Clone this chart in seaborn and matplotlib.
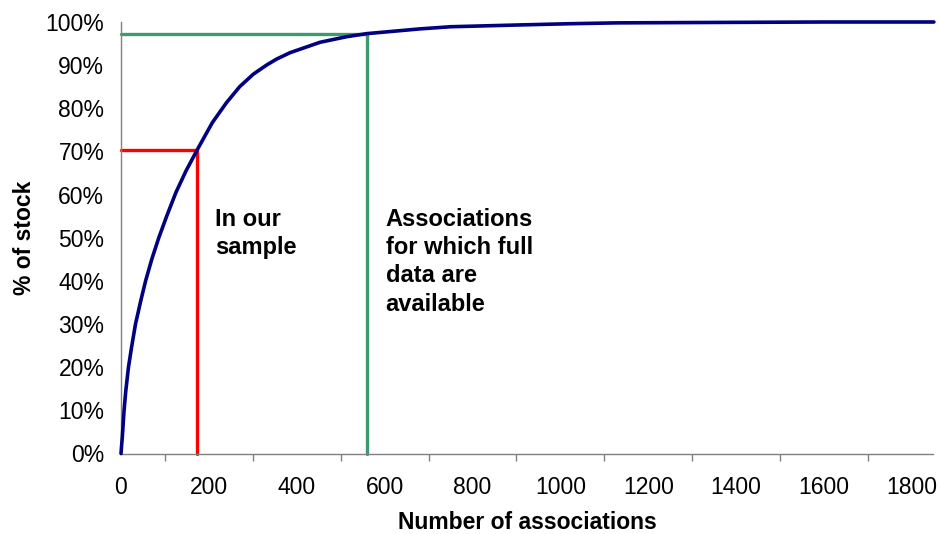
import matplotlib
matplotlib.use("Agg")
import matplotlib.pyplot as plt
from matplotlib.ticker import MultipleLocator, FuncFormatter
import seaborn as sns
import pandas as pd

# ---- data ----
associations = [0, 3, 7, 11, 17, 24, 33, 45, 56, 70, 86, 104, 125, 148, 173,
                208, 240, 270, 301, 331, 354, 385, 453, 514, 559, 680, 750,
                900, 1020, 1130, 1360, 1600, 1850]
pct_stock = [0, 3.9, 10, 14.6, 20, 24.6, 30, 35.4, 40, 45, 50, 55, 60.5, 65.5, 70.3,
             76.7, 81.3, 85.0, 87.9, 90.0, 91.4, 92.9, 95.3, 96.6, 97.3, 98.4, 98.9,
             99.3, 99.6, 99.8, 99.9, 100, 100]

sample_n, sample_pct = 173, 70.3
full_n, full_pct = 559, 97.3

x_ticks = [0, 200, 400, 600, 800, 1000, 1200, 1400, 1600, 1800]
y_ticks = [0, 10, 20, 30, 40, 50, 60, 70, 80, 90, 100]

label_sample = "In our\nsample"
label_full = "Associations\nfor which full\ndata are\navailable"

df = pd.DataFrame({"n": associations, "pct": pct_stock})

sns.set_theme(style="white")
plt.rcParams["font.family"] = ["Liberation Sans", "DejaVu Sans"]
plt.rcParams["text.color"] = "black"
plt.rcParams["axes.labelcolor"] = "black"

fig = plt.figure(figsize=(9.4, 5.34), dpi=100)
ax = fig.add_axes([121 / 940, 1 - 453.5 / 534, (933 - 121) / 940, (453.5 - 22) / 534])

GRAY = "#808080"
RED = "#FF0000"
GREEN = "#3C9B6E"
NAVY = "#000080"

ax.plot([0, sample_n, sample_n], [sample_pct, sample_pct, 0], color=RED, lw=2.4,
        solid_joinstyle="miter", clip_on=False, zorder=2)
ax.plot([0, full_n, full_n], [full_pct, full_pct, 0], color=GREEN, lw=2.4,
        solid_joinstyle="miter", clip_on=False, zorder=2)
sns.lineplot(data=df, x="n", y="pct", ax=ax, color=NAVY, lw=2.6, sort=False,
             estimator=None, zorder=3)
for l in ax.lines:
    l.set_clip_on(False)
    l.set_solid_joinstyle("round")

ax.set_xlim(0, 1848)
ax.set_ylim(0, 100)
ax.set_xticks(x_ticks)
ax.xaxis.set_minor_locator(MultipleLocator(100))
ax.set_yticks(y_ticks)
ax.yaxis.set_major_formatter(FuncFormatter(lambda v, p: f"{int(v)}%"))

for s in ["top", "right"]:
    ax.spines[s].set_visible(False)
for s in ["left", "bottom"]:
    ax.spines[s].set_color(GRAY)
    ax.spines[s].set_linewidth(1.0)

ax.tick_params(axis="both", which="both", direction="out", length=5, width=1.0,
               color=GRAY, labelsize=16.5, labelcolor="black")
ax.tick_params(axis="x", which="major", pad=11)
ax.tick_params(axis="y", which="major", pad=7)
ax.tick_params(axis="both", which="minor", bottom=True, length=5)

ax.set_xlabel("Number of associations", fontsize=16.5, fontweight="bold",
              labelpad=9, color="black")
ax.set_ylabel("% of stock", fontsize=16.5, fontweight="bold", labelpad=7,
              color="black")

ax.text(214, 57, label_sample, fontsize=17, fontweight="bold", va="top",
        ha="left", linespacing=1.3, color="black")
ax.text(602, 57, label_full, fontsize=17, fontweight="bold", va="top",
        ha="left", linespacing=1.3, color="black")

fig.savefig("out.png", dpi=100, facecolor="white")
